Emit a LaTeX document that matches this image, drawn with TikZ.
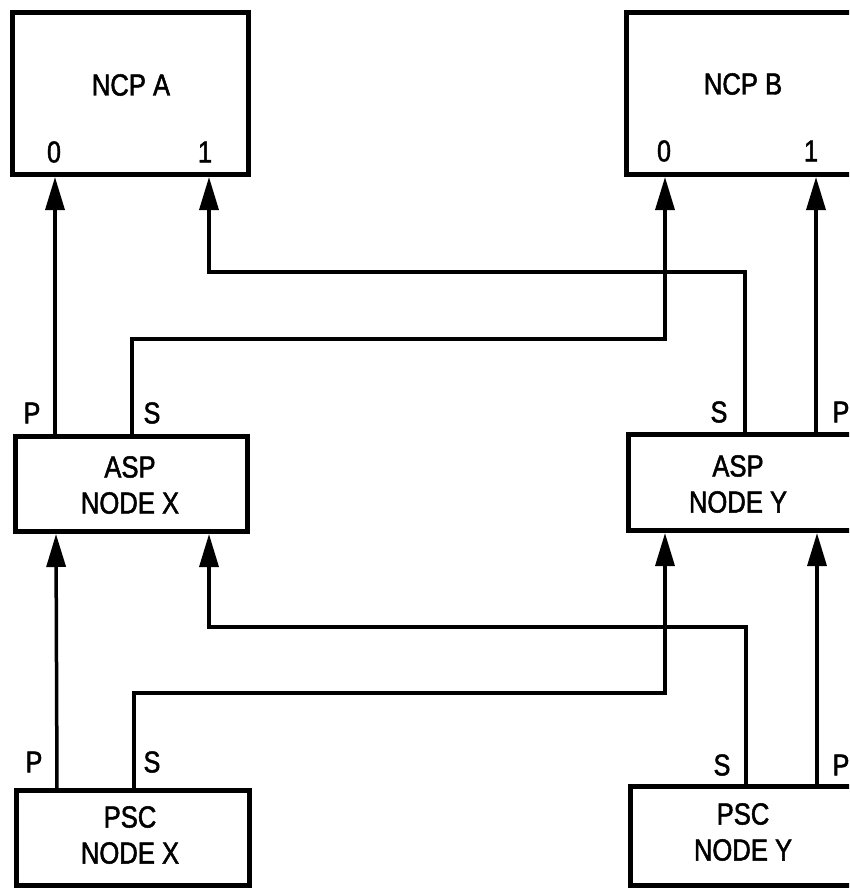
\documentclass[tikz,border=0pt]{standalone}
\usepackage{fontspec}
\setmainfont{Liberation Sans}[FakeStretch=0.84, FakeBold=1.6]
\usetikzlibrary{arrows.meta}
\begin{document}
\begin{tikzpicture}[x=1pt,y=-1pt,
  unit/.style={draw, line width=5pt, rectangle, inner sep=0pt},
  boxtitle/.style={font=\fontsize{30.5}{36}\selectfont, align=center, inner sep=0pt},
  portlabel/.style={font=\fontsize{30}{32}\selectfont, inner sep=0pt},
  link/.style={line width=3.5pt},
  feed/.style={link, -{Triangle[length=33pt,width=19pt]}}]
\useasboundingbox (0,0) rectangle (849,888);
\clip (0,0) rectangle (849,888);

% processor and concentrator boxes
\node[unit, minimum width=235.5pt, minimum height=161.5pt] (ncpa) at (130.25,93.25) {};
\node[unit, minimum width=244pt, minimum height=161.5pt] (ncpb) at (748,93.25) {};
\node[unit, minimum width=232pt, minimum height=95pt] (aspx) at (131,483.5) {};
\node[unit, minimum width=242pt, minimum height=96pt] (aspy) at (749,482) {};
\node[unit, minimum width=233pt, minimum height=95pt] (pscx) at (132.5,837.5) {};
\node[unit, minimum width=240pt, minimum height=99pt] (pscy) at (750,835.5) {};

% box titles
\node[boxtitle] (ncpaname) at (131,85) {NCP A};
\node[boxtitle] (ncpbname) at (743,84) {NCP B};
\node[boxtitle] (aspxname) at (130,485) {ASP\\NODE X};
\node[boxtitle] (aspyname) at (738,484) {ASP\\NODE Y};
\node[boxtitle] (pscxname) at (130,835) {PSC\\NODE X};
\node[boxtitle] (pscyname) at (743,832) {PSC\\NODE Y};

% input numbers on the NCPs
\node[portlabel] (ncpa0) at (54,152) {0};
\node[portlabel] (ncpa1) at (205,152) {1};
\node[portlabel] (ncpb0) at (664,151) {0};
\node[portlabel] (ncpb1) at (811,151) {1};

% primary / secondary output labels
\node[portlabel] (aspxP) at (32,413) {P};
\node[portlabel] (aspxS) at (152,413) {S};
\node[portlabel] (aspyS) at (719,412) {S};
\node[portlabel] (aspyP) at (841,412) {P};
\node[portlabel] (pscxP) at (34,762) {P};
\node[portlabel] (pscxS) at (152,762) {S};
\node[portlabel] (pscyS) at (722,765) {S};
\node[portlabel] (pscyP) at (841,765) {P};

% connection points on the box edges
\coordinate (ncpaIn0) at (55,177);
\coordinate (ncpaIn1) at (209,177);
\coordinate (ncpbIn0) at (665,177);
\coordinate (ncpbIn1) at (816,177);
\coordinate (aspxOutP) at (55,436);
\coordinate (aspxOutS) at (132,436);
\coordinate (aspyOutS) at (745,434);
\coordinate (aspyOutP) at (816,434);
\coordinate (aspxIn0) at (56,534);
\coordinate (aspxIn1) at (209,534);
\coordinate (aspyIn0) at (665,533);
\coordinate (aspyIn1) at (817,533);
\coordinate (pscxOutP) at (57,790);
\coordinate (pscxOutS) at (134,790);
\coordinate (pscyOutS) at (746,786);
\coordinate (pscyOutP) at (817,786);

% ASP to NCP links
\draw[feed] (aspxOutP) -- (ncpaIn0);
\draw[feed] (aspxOutS) |- (132,339) -| (ncpbIn0);
\draw[feed] (aspyOutS) |- (745,272) -| (ncpaIn1);
\draw[feed] (aspyOutP) -- (ncpbIn1);

% PSC to ASP links
\draw[feed] (pscxOutP) -- (aspxIn0);
\draw[feed] (pscxOutS) |- (134,693) -| (aspyIn0);
\draw[feed] (pscyOutS) |- (746,627) -| (aspxIn1);
\draw[feed] (pscyOutP) -- (aspyIn1);
\end{tikzpicture}
\end{document}
